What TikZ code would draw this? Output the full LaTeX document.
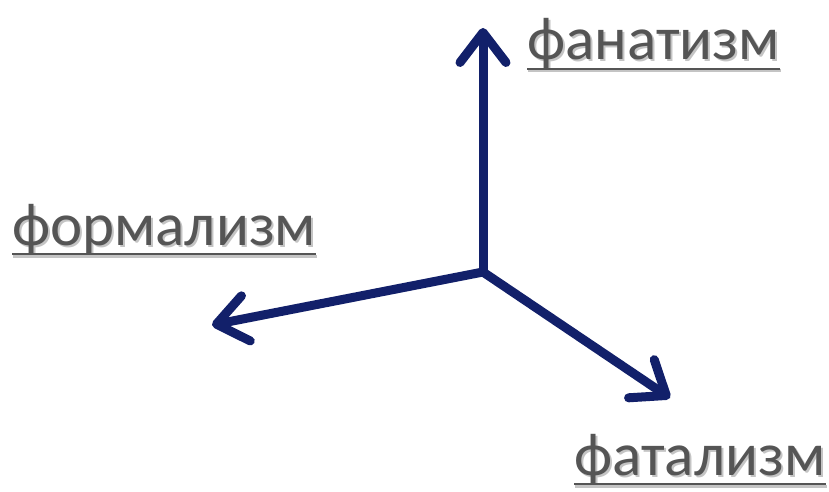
\documentclass[tikz,border=0pt]{standalone}
\usepackage{fontspec}
\setmainfont{Carlito}
\usetikzlibrary{arrows.meta,calc}
\definecolor{axisblue}{HTML}{12206A}
\definecolor{labelgray}{HTML}{555555}
\definecolor{shadowgray}{HTML}{C4C4C4}
\tikzset{
  axis/.style={draw=axisblue, line width=9pt, line cap=round,
    -{Straight Barb[length=30pt, width=46pt, line cap=round, line join=round]}},
  lbl/.style={font=\fontsize{61}{66}\selectfont, text=labelgray, inner sep=0pt, anchor=base west},
}
% text with a soft drop shadow set behind it
\newcommand{\shadowtext}[1]{\rlap{\kern2pt\raisebox{-2pt}{\color{shadowgray}#1}}#1}
% a label with a drop shadow and an underline
\newcommand{\shadedlabel}[3]{%
  \node[lbl] (#1) at (#2) {\shadowtext{#3}};
  \draw[shadowgray, line width=3pt] ($(#1.base west)+(1pt,-11pt)$) -- ($(#1.base east)+(1pt,-11pt)$);
  \draw[labelgray, line width=2.4pt] ($(#1.base west)+(0,-9pt)$) -- ($(#1.base east)+(0,-9pt)$);
}
\begin{document}
\begin{tikzpicture}[x=1pt, y=1pt]
  \useasboundingbox (0,0) rectangle (829,491);
  \coordinate (O) at (483,219);
  \coordinate (up) at (483,463);
  \coordinate (left) at (212,166);
  \coordinate (dr) at (670,93);
  \coordinate (pfan) at (527,431);
  \coordinate (pform) at (12,246);
  \coordinate (pfat) at (574,16);
  \draw[axis] (O) -- (up);
  \draw[axis] (O) -- (left);
  \draw[axis] (O) -- (dr);
  \shadedlabel{fan}{pfan}{фанатизм}
  \shadedlabel{form}{pform}{формализм}
  \shadedlabel{fat}{pfat}{фатализм}
\end{tikzpicture}
\end{document}
